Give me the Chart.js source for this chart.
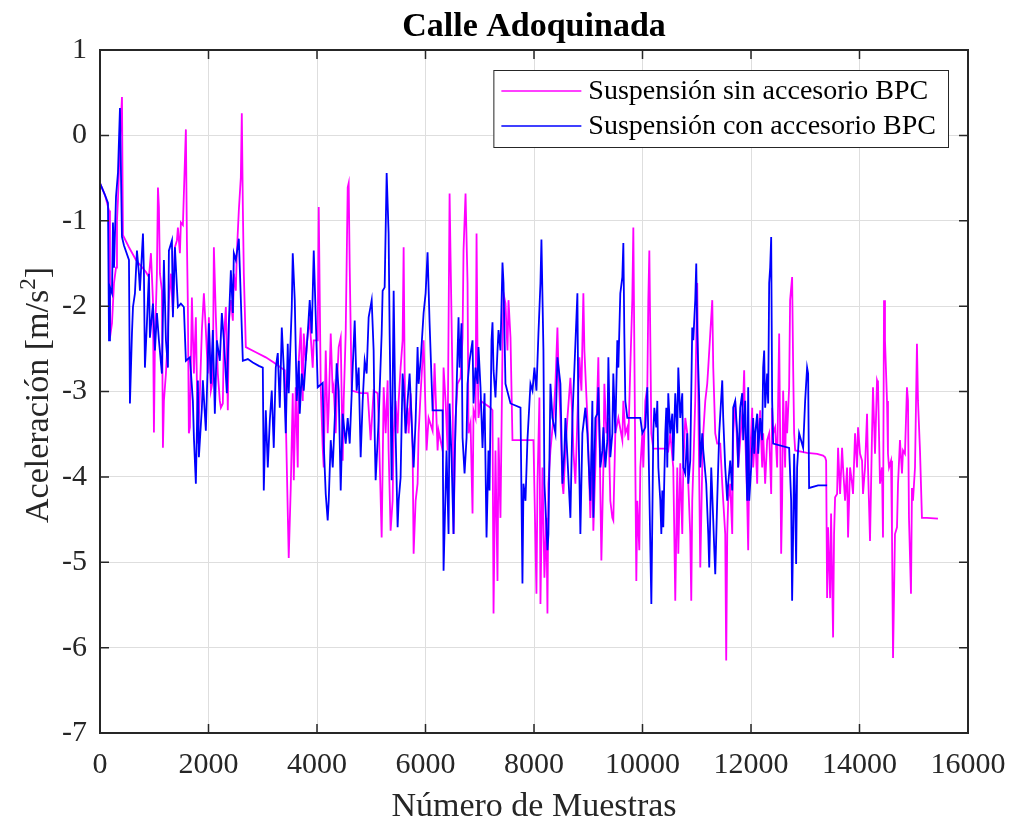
<!DOCTYPE html>
<html>
<head>
<meta charset="utf-8">
<title>Calle Adoquinada</title>
<script src="https://cdn.jsdelivr.net/npm/chart.js@4.4.1/dist/chart.umd.min.js"></script>
<style>
  html, body { margin: 0; padding: 0; background: #fff; }
  #wrap { width: 1013px; height: 823px; }
</style>
</head>
<body>
<div id="wrap"><canvas id="myChart" width="1013" height="823"></canvas></div>
<script>
// labels
const chartTitle = 'Calle Adoquinada';
const xTitle = 'Número de Muestras';
const yTitleMain = 'Aceleración [m/s';
const yTitleSup = '2';
const yTitleEnd = ']';
const seriesNames = ['Suspensión sin accesorio BPC', 'Suspensión con accesorio BPC'];

// tick values
const xTicks = [0, 2000, 4000, 6000, 8000, 10000, 12000, 14000, 16000];
const yTicks = [1, 0, -1, -2, -3, -4, -5, -6, -7];

// [sample number, acceleration] - sin accesorio
const sinData = [
  [0,-0.56],[92,-0.70],[166,-0.88],[184,-2.37],[221,-2.20],[258,-1.73],[295,-1.55],[313,-1.00],[331,-0.76],[368,-0.06],
  [405,0.45],[423,-1.17],[534,-1.31],[663,-1.46],[847,-1.60],[902,-1.66],[939,-1.38],[976,-1.93],[994,-3.48],[1013,-2.40],
  [1049,-1.62],[1068,-0.61],[1086,-0.84],[1105,-1.62],[1141,-1.82],[1160,-3.66],[1178,-3.11],[1215,-2.79],[1252,-2.32],[1270,-1.93],
  [1307,-1.62],[1344,-2.08],[1381,-1.31],[1418,-1.23],[1436,-1.08],[1473,-1.38],[1491,-1.02],[1528,-1.05],[1583,0.07],[1602,-1.23],
  [1620,-2.01],[1638,-3.49],[1657,-3.42],[1694,-1.90],[1731,-2.79],[1767,-2.13],[1804,-3.61],[1841,-3.02],[1878,-2.28],[1915,-1.85],
  [1951,-2.28],[1988,-2.79],[2007,-2.13],[2044,-2.99],[2080,-2.87],[2099,-1.31],[2136,-2.13],[2172,-2.79],[2209,-3.11],[2228,-3.19],
  [2264,-3.14],[2283,-2.40],[2320,-2.01],[2356,-3.22],[2375,-2.20],[2412,-1.93],[2449,-2.17],[2467,-1.62],[2504,-1.82],[2522,-1.38],
  [2559,-0.88],[2596,-0.49],[2614,0.26],[2633,-0.84],[2651,-1.62],[2688,-2.48],[2872,-2.54],[3056,-2.60],[3203,-2.66],[3332,-2.72],
  [3406,-2.75],[3479,-4.95],[3516,-4.13],[3553,-3.02],[3572,-4.04],[3608,-2.95],[3645,-3.89],[3664,-2.64],[3700,-2.25],[3737,-3.11],
  [3756,-2.32],[3792,-2.64],[3829,-2.32],[3866,-2.17],[3921,-2.72],[3940,-2.40],[4013,-2.40],[4032,-0.84],[4069,-2.95],[4105,-3.66],
  [4124,-3.89],[4161,-2.52],[4197,-3.49],[4216,-3.19],[4253,-2.32],[4290,-3.02],[4308,-2.95],[4345,-3.49],[4382,-2.72],[4400,-2.48],
  [4437,-2.37],[4474,-3.81],[4492,-3.11],[4529,-2.32],[4566,-0.61],[4584,-0.56],[4603,-1.55],[4639,-2.99],[4805,-3.02],[4934,-3.02],
  [4989,-3.57],[5044,-2.99],[5118,-3.02],[5136,-3.34],[5192,-4.71],[5210,-3.89],[5229,-2.95],[5265,-3.49],[5302,-2.87],[5320,-3.69],
  [5357,-4.63],[5394,-4.28],[5413,-3.49],[5449,-3.11],[5486,-3.49],[5505,-3.11],[5541,-2.72],[5578,-2.40],[5597,-1.31],[5615,-2.72],
  [5633,-3.49],[5670,-3.19],[5689,-3.49],[5726,-3.02],[5762,-3.66],[5781,-4.90],[5818,-4.28],[5854,-4.08],[5873,-3.49],[5910,-3.02],
  [5965,-2.40],[6020,-3.69],[6057,-3.31],[6131,-3.46],[6167,-2.67],[6223,-3.69],[6241,-3.46],[6315,-3.69],[6333,-2.72],[6370,-3.11],
  [6407,-3.69],[6444,-0.68],[6462,-1.43],[6499,-2.91],[6517,-4.67],[6554,-3.31],[6591,-2.91],[6646,-2.84],[6683,-2.37],[6701,-1.35],
  [6738,-0.68],[6775,-1.73],[6793,-3.49],[6830,-3.37],[6867,-4.43],[6885,-3.22],[6922,-3.31],[6941,-1.15],[6959,-2.52],[6977,-3.31],
  [7014,-3.11],[7198,-3.19],[7235,-3.22],[7254,-5.60],[7290,-3.69],[7327,-5.22],[7346,-3.54],[7382,-4.48],[7419,-2.52],[7438,-1.85],
  [7474,-1.97],[7511,-2.52],[7530,-1.93],[7567,-2.37],[7603,-3.57],[7787,-3.57],[7990,-3.57],[8045,-5.37],[8064,-4.08],[8100,-3.07],
  [8119,-5.49],[8156,-3.89],[8192,-5.18],[8229,-4.48],[8248,-5.60],[8266,-4.08],[8303,-3.69],[8358,-3.31],[8395,-2.91],[8432,-2.25],
  [8450,-2.72],[8487,-3.31],[8524,-4.08],[8542,-4.20],[8579,-3.69],[8616,-3.31],[8671,-2.84],[8708,-3.31],[8726,-3.69],[8763,-4.08],
  [8800,-3.31],[8837,-2.60],[8874,-2.99],[8910,-1.85],[8929,-2.52],[8984,-3.31],[9002,-3.69],[9039,-4.48],[9076,-3.69],[9094,-4.63],
  [9131,-3.89],[9186,-2.60],[9242,-4.98],[9279,-3.89],[9297,-2.91],[9334,-3.49],[9371,-3.31],[9407,-4.28],[9444,-4.48],[9462,-4.51],
  [9499,-3.49],[9555,-3.31],[9628,-3.57],[9647,-3.11],[9683,-3.49],[9720,-3.42],[9739,-3.57],[9775,-2.72],[9812,-1.93],[9831,-1.08],
  [9868,-3.89],[9886,-5.22],[9905,-4.28],[9941,-4.86],[9960,-3.89],[9997,-3.49],[10015,-3.89],[10052,-3.11],[10089,-2.95],[10107,-1.93],
  [10126,-1.35],[10163,-3.49],[10199,-3.67],[10457,-3.67],[10475,-3.69],[10512,-3.49],[10567,-3.89],[10586,-4.67],[10604,-5.45],[10641,-3.89],
  [10660,-4.90],[10696,-3.84],[10733,-4.67],[10752,-3.89],[10788,-3.31],[10825,-3.49],[10844,-4.08],[10880,-4.67],[10899,-5.45],[10917,-4.28],
  [10936,-3.89],[10972,-3.11],[11009,-1.73],[11028,-3.11],[11065,-5.06],[11101,-3.89],[11120,-3.49],[11157,-3.11],[11193,-2.91],[11212,-2.72],
  [11249,-2.32],[11286,-1.93],[11304,-2.72],[11341,-3.49],[11377,-3.61],[11433,-3.61],[11470,-4.08],[11488,-4.28],[11525,-4.67],[11543,-6.15],
  [11562,-4.67],[11580,-4.28],[11617,-4.08],[11654,-4.67],[11672,-3.49],[11709,-3.11],[11764,-3.89],[11856,-3.11],[11874,-2.75],[11893,-3.49],
  [11930,-4.28],[11948,-4.86],[11967,-3.89],[12003,-3.49],[12022,-3.19],[12040,-3.89],[12077,-3.49],[12114,-4.08],[12132,-3.49],[12169,-3.22],
  [12206,-3.89],[12224,-3.49],[12261,-4.08],[12298,-3.57],[12335,-3.49],[12372,-4.20],[12390,-3.19],[12408,-3.49],[12445,-3.42],[12482,-3.89],
  [12500,-3.11],[12519,-2.32],[12537,-3.49],[12556,-4.90],[12574,-4.28],[12592,-2.99],[12629,-3.89],[12648,-3.11],[12666,-3.49],[12703,-2.95],
  [12721,-1.93],[12758,-1.66],[12777,-2.72],[12795,-3.49],[12814,-3.69],[13034,-3.72],[13218,-3.73],[13329,-3.75],[13366,-3.77],[13385,-3.81],
  [13403,-5.42],[13421,-4.59],[13458,-5.42],[13476,-4.43],[13513,-5.88],[13531,-4.67],[13550,-4.24],[13587,-4.20],[13605,-3.66],[13642,-4.20],
  [13679,-3.66],[13697,-3.89],[13734,-4.28],[13771,-3.89],[13789,-4.71],[13826,-3.89],[13863,-4.08],[13881,-4.20],[13918,-3.49],[13955,-3.89],
  [13973,-3.42],[14010,-3.73],[14047,-3.81],[14065,-4.20],[14102,-3.89],[14139,-3.26],[14157,-3.89],[14194,-4.75],[14231,-3.49],[14249,-2.95],
  [14286,-3.73],[14323,-2.87],[14341,-2.91],[14378,-4.08],[14415,-3.89],[14433,-4.71],[14452,-1.93],[14470,-2.40],[14507,-3.11],[14525,-3.73],
  [14544,-3.89],[14581,-3.81],[14599,-4.67],[14618,-6.12],[14654,-4.67],[14691,-4.59],[14710,-4.08],[14746,-3.57],[14783,-3.96],[14802,-3.69],
  [14838,-3.73],[14875,-2.95],[14894,-3.11],[14912,-4.48],[14949,-5.37],[14967,-4.13],[14986,-4.28],[15023,-3.89],[15059,-2.44],[15078,-3.11],
  [15115,-3.69],[15151,-4.48],[15243,-4.48],[15446,-4.49]
];

// [sample number, acceleration] - con accesorio
const conData = [
  [0,-0.56],[92,-0.70],[147,-0.79],[166,-2.40],[184,-1.78],[221,-1.85],[239,-1.02],[258,-1.55],[295,-0.72],[331,-0.44],
  [368,0.32],[405,-1.19],[442,-1.29],[534,-1.46],[552,-3.14],[589,-2.32],[608,-2.01],[644,-1.85],[681,-1.35],[718,-1.62],
  [736,-1.82],[792,-1.15],[810,-1.62],[828,-2.72],[865,-2.20],[902,-1.62],[920,-2.37],[976,-1.97],[1013,-2.52],[1049,-2.08],
  [1086,-2.40],[1141,-2.79],[1178,-1.46],[1215,-2.40],[1252,-2.72],[1270,-1.35],[1326,-1.23],[1344,-2.13],[1381,-1.31],[1436,-2.01],
  [1491,-1.97],[1546,-2.01],[1583,-2.64],[1657,-2.60],[1712,-3.11],[1731,-3.54],[1767,-4.08],[1804,-2.87],[1823,-3.77],[1878,-3.19],
  [1896,-2.87],[1951,-3.46],[2007,-2.20],[2044,-2.91],[2080,-2.28],[2117,-3.26],[2154,-2.40],[2209,-2.64],[2246,-2.08],[2283,-2.40],
  [2338,-3.02],[2375,-2.20],[2412,-1.58],[2449,-2.08],[2467,-1.38],[2504,-1.46],[2559,-1.21],[2577,-1.55],[2633,-2.64],[2725,-2.62],
  [2817,-2.66],[2927,-2.70],[3001,-2.72],[3019,-4.16],[3056,-3.22],[3093,-3.89],[3130,-3.34],[3166,-2.99],[3203,-3.66],[3240,-2.72],
  [3277,-2.55],[3314,-3.19],[3351,-2.25],[3387,-2.72],[3424,-3.49],[3461,-2.44],[3479,-3.02],[3535,-2.01],[3553,-1.38],[3590,-1.93],
  [3627,-3.11],[3664,-2.64],[3682,-3.26],[3719,-2.79],[3756,-2.99],[3792,-2.64],[3829,-2.32],[3866,-1.93],[3903,-2.32],[3921,-1.85],
  [3940,-1.35],[3977,-2.13],[4013,-2.95],[4105,-2.90],[4124,-3.61],[4161,-4.20],[4197,-4.51],[4216,-4.28],[4253,-3.57],[4290,-3.89],
  [4326,-3.34],[4363,-2.67],[4400,-2.99],[4437,-4.16],[4474,-3.26],[4529,-3.61],[4566,-3.31],[4603,-3.61],[4658,-2.72],[4695,-2.17],
  [4731,-2.99],[4768,-2.72],[4805,-3.77],[4842,-3.11],[4879,-2.64],[4915,-2.79],[4952,-2.13],[5008,-1.93],[5044,-2.52],[5063,-3.49],
  [5081,-4.04],[5118,-3.57],[5136,-3.34],[5192,-2.32],[5210,-1.82],[5247,-1.78],[5284,-0.44],[5320,-1.15],[5339,-2.32],[5376,-4.04],
  [5394,-3.02],[5413,-1.82],[5449,-3.49],[5486,-4.59],[5505,-4.28],[5541,-4.01],[5578,-2.79],[5597,-2.95],[5633,-3.49],[5670,-3.11],
  [5707,-2.79],[5744,-3.34],[5781,-3.89],[5818,-3.34],[5854,-2.48],[5873,-2.91],[5910,-2.64],[5965,-2.08],[6002,-1.85],[6038,-1.37],
  [6075,-2.19],[6131,-3.22],[6315,-3.22],[6333,-5.10],[6388,-3.69],[6425,-4.67],[6444,-3.14],[6480,-3.77],[6517,-4.67],[6536,-3.81],
  [6572,-2.99],[6609,-2.13],[6628,-2.72],[6664,-2.20],[6683,-3.54],[6720,-3.96],[6757,-3.54],[6775,-2.91],[6812,-2.64],[6867,-2.40],
  [6885,-3.14],[6922,-2.72],[6959,-2.91],[6977,-2.48],[7014,-2.95],[7051,-3.66],[7088,-3.02],[7125,-4.71],[7161,-3.69],[7180,-4.16],
  [7217,-2.40],[7235,-2.19],[7254,-2.75],[7290,-3.07],[7327,-2.52],[7346,-2.28],[7382,-2.52],[7419,-1.49],[7438,-1.73],[7474,-2.91],
  [7567,-3.14],[7751,-3.19],[7787,-5.25],[7806,-4.08],[7843,-4.28],[7879,-3.57],[7935,-2.91],[7972,-2.99],[8008,-2.72],[8045,-2.99],
  [8082,-2.32],[8119,-1.73],[8137,-1.22],[8174,-2.52],[8192,-4.08],[8248,-4.86],[8266,-4.67],[8303,-2.91],[8340,-3.31],[8395,-3.49],
  [8432,-2.60],[8487,-2.91],[8524,-4.08],[8561,-3.69],[8579,-3.31],[8616,-3.77],[8671,-4.48],[8708,-3.31],[8763,-2.44],[8800,-1.85],
  [8818,-3.31],[8855,-4.67],[8892,-3.49],[8947,-3.19],[8984,-3.49],[9039,-4.28],[9076,-3.11],[9094,-4.48],[9131,-3.31],[9168,-3.26],
  [9186,-2.95],[9223,-3.89],[9260,-3.69],[9279,-3.42],[9315,-3.89],[9352,-3.57],[9371,-2.60],[9407,-3.77],[9444,-3.49],[9462,-2.79],
  [9499,-3.49],[9536,-2.40],[9555,-2.72],[9591,-1.85],[9628,-1.66],[9647,-1.26],[9665,-2.32],[9683,-3.11],[9720,-3.31],[9960,-3.31],
  [9997,-3.49],[10052,-3.42],[10089,-2.95],[10107,-3.49],[10163,-5.49],[10199,-3.49],[10218,-3.19],[10255,-3.42],[10273,-3.11],[10292,-3.89],
  [10328,-4.28],[10347,-4.67],[10365,-4.16],[10383,-4.59],[10420,-3.49],[10439,-3.19],[10457,-3.89],[10475,-3.02],[10512,-3.49],[10549,-3.26],
  [10568,-3.81],[10604,-3.02],[10641,-3.49],[10660,-2.72],[10696,-3.31],[10733,-3.02],[10752,-3.89],[10788,-3.96],[10825,-3.49],[10844,-4.08],
  [10880,-3.81],[10917,-2.25],[10936,-2.40],[10972,-1.93],[10991,-1.50],[11009,-2.32],[11046,-3.11],[11065,-3.89],[11101,-3.49],[11120,-3.69],
  [11175,-4.08],[11212,-4.67],[11230,-5.06],[11267,-3.89],[11304,-4.51],[11322,-4.83],[11341,-5.14],[11377,-4.28],[11414,-3.49],[11470,-2.87],
  [11488,-3.31],[11525,-3.89],[11562,-4.28],[11580,-4.08],[11617,-3.81],[11654,-4.16],[11672,-3.19],[11709,-3.11],[11746,-3.49],[11764,-3.89],
  [11801,-3.19],[11838,-3.02],[11856,-3.57],[11893,-3.11],[11930,-4.28],[11948,-2.95],[11967,-4.28],[12003,-3.89],[12040,-3.31],[12059,-3.73],
  [12077,-3.49],[12114,-3.26],[12133,-3.73],[12169,-3.31],[12206,-3.57],[12224,-2.72],[12243,-2.52],[12261,-3.19],[12298,-2.79],[12316,-3.14],
  [12335,-1.73],[12353,-1.55],[12372,-1.19],[12390,-3.11],[12408,-3.61],[12703,-3.66],[12740,-4.28],[12758,-5.45],[12777,-4.67],[12795,-3.73],
  [12814,-4.28],[12832,-5.02],[12850,-3.89],[12887,-3.49],[12961,-3.66],[12998,-3.11],[13034,-2.72],[13053,-2.79],[13071,-4.13],[13237,-4.10],
  [13403,-4.10]
];

const sinColor = '#ff00ff';
const conColor = '#0000ff';
const serif = "'Liberation Serif', 'Times New Roman', serif";

// axes box, inward ticks, title, y label and legend drawn on top
const framePlugin = {
    id: 'frame',
    afterDraw(chart) {
        const ctx = chart.ctx;
        const a = chart.chartArea;
        const xs = chart.scales.x, ys = chart.scales.y;
        ctx.save();

        // inward tick marks
        ctx.strokeStyle = '#262626';
        ctx.lineWidth = 1.5;
        ctx.beginPath();
        xTicks.forEach(v => {
            const px = xs.getPixelForValue(v);
            ctx.moveTo(px, a.bottom); ctx.lineTo(px, a.bottom - 9);
            ctx.moveTo(px, a.top); ctx.lineTo(px, a.top + 9);
        });
        yTicks.forEach(v => {
            const py = ys.getPixelForValue(v);
            ctx.moveTo(a.left, py); ctx.lineTo(a.left + 9, py);
            ctx.moveTo(a.right, py); ctx.lineTo(a.right - 9, py);
        });
        ctx.stroke();

        // box
        ctx.lineWidth = 2;
        ctx.strokeRect(a.left, a.top, a.right - a.left, a.bottom - a.top);

        // title
        ctx.fillStyle = '#000';
        ctx.textAlign = 'center';
        ctx.textBaseline = 'alphabetic';
        ctx.font = 'bold 34px ' + serif;
        ctx.fillText(chartTitle, (a.left + a.right) / 2, 36);

        // x label
        ctx.fillStyle = '#262626';
        ctx.font = '34px ' + serif;
        ctx.fillText(xTitle, (a.left + a.right) / 2, 816);

        // y label with superscript
        ctx.save();
        ctx.translate(48, 395);
        ctx.rotate(-Math.PI / 2);
        ctx.textAlign = 'left';
        const mainFont = '34px ' + serif, supFont = '23px ' + serif;
        ctx.font = mainFont;
        const w1 = ctx.measureText(yTitleMain).width;
        const w3 = ctx.measureText(yTitleEnd).width;
        ctx.font = supFont;
        const w2 = ctx.measureText(yTitleSup).width;
        let x0 = -(w1 + w2 + w3) / 2;
        ctx.font = mainFont;
        ctx.fillText(yTitleMain, x0, 0);
        ctx.font = supFont;
        ctx.fillText(yTitleSup, x0 + w1, -13);
        ctx.font = mainFont;
        ctx.fillText(yTitleEnd, x0 + w1 + w2, 0);
        ctx.restore();

        // legend
        ctx.font = '28px ' + serif;
        let maxW = 0;
        seriesNames.forEach(n => { maxW = Math.max(maxW, ctx.measureText(n).width); });
        const boxRight = a.right - 20;
        const boxW = 8 + 80 + 7 + maxW + 12;
        const boxLeft = boxRight - boxW;
        const boxTop = a.top + 20;
        const boxH = 77;
        ctx.fillStyle = '#fff';
        ctx.fillRect(boxLeft, boxTop, boxW, boxH);
        ctx.strokeStyle = '#262626';
        ctx.lineWidth = 1;
        ctx.strokeRect(boxLeft + 0.5, boxTop + 0.5, boxW, boxH);
        const colors = [sinColor, conColor];
        const rows = [boxTop + 21, boxTop + 56];
        ctx.textAlign = 'left';
        ctx.textBaseline = 'middle';
        seriesNames.forEach((n, i) => {
            ctx.strokeStyle = colors[i];
            ctx.lineWidth = 1.5;
            ctx.beginPath();
            ctx.moveTo(boxLeft + 8, rows[i]);
            ctx.lineTo(boxLeft + 88, rows[i]);
            ctx.stroke();
            ctx.fillStyle = '#000';
            ctx.fillText(n, boxLeft + 95, rows[i] + 1);
        });
        ctx.restore();
    }
};

const ctx = document.getElementById('myChart').getContext('2d');
new Chart(ctx, {
    type: 'line',
    data: {
        datasets: [{
            label: seriesNames[0],
            data: sinData.map(p => ({x: p[0], y: p[1]})),
            borderColor: sinColor,
            borderWidth: 1.8,
            pointRadius: 0,
            tension: 0,
            order: 1
        }, {
            label: seriesNames[1],
            data: conData.map(p => ({x: p[0], y: p[1]})),
            borderColor: conColor,
            borderWidth: 1.8,
            pointRadius: 0,
            tension: 0,
            order: 0
        }]
    },
    options: {
        responsive: false,
        animation: false,
        layout: { padding: { top: 50, right: 45, left: 0, bottom: 0 } },
        plugins: {
            legend: { display: false },
            title: { display: false },
            tooltip: { enabled: false }
        },
        scales: {
            x: {
                type: 'linear',
                min: 0,
                max: 16000,
                afterBuildTicks: s => { s.ticks = xTicks.map(v => ({value: v})); },
                afterFit: s => { s.height = 90; s.paddingLeft = 0; s.paddingRight = 0; },
                grid: { color: '#dedede', lineWidth: 1, drawTicks: false },
                border: { display: false },
                ticks: {
                    color: '#262626',
                    padding: 14,
                    maxRotation: 0,
                    callback: v => String(v),
                    font: { family: serif, size: 30 }
                }
            },
            y: {
                type: 'linear',
                min: -7,
                max: 1,
                afterBuildTicks: s => { s.ticks = yTicks.map(v => ({value: v})); },
                afterFit: s => { s.width = 100; s.paddingTop = 0; s.paddingBottom = 0; },
                grid: { color: '#dedede', lineWidth: 1, drawTicks: false },
                border: { display: false },
                ticks: {
                    color: '#262626',
                    padding: 13,
                    callback: v => String(v),
                    font: { family: serif, size: 30 }
                }
            }
        }
    },
    plugins: [framePlugin]
});
</script>
</body>
</html>
